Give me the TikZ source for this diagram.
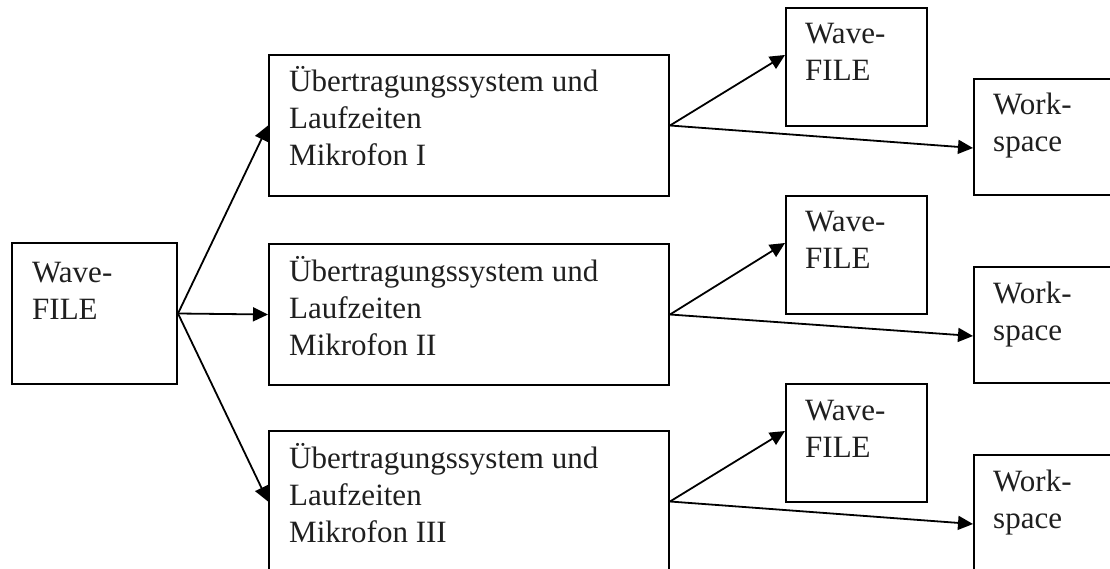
\documentclass[tikz,border=0pt]{standalone}
\usepackage{fontspec}
\setmainfont{Liberation Serif}
\usetikzlibrary{arrows.meta,calc}
\begin{document}
\begin{tikzpicture}[x=1pt,y=-1pt,
  box/.style={draw, line width=2pt, rectangle, inner sep=0pt, anchor=north west},
  midbox/.style={box, minimum width=400pt, minimum height=141pt},
  filebox/.style={box, minimum width=141pt, minimum height=118pt},
  wsbox/.style={box, minimum width=170pt, minimum height=116pt},
  lbl/.style={anchor=base west, inner sep=0pt, align=left,
    font=\fontsize{31}{37}\selectfont, text=black!88},
  link/.style={line width=1.8pt, -{Triangle[length=15pt,width=14pt]}}]
\useasboundingbox (0,0) rectangle (1110,569);
\clip (0,0) rectangle (1110,569);

% source file (labels are anchored on the baseline of their last line)
\node[box, minimum width=165pt, minimum height=141pt] (src) at (11,242) {};
\node[lbl] (srcT) at ($(src.north west)+(21,77)$) {Wave-\\FILE};

% transmission stages
\node[midbox] (m1) at (268,54) {};
\node[midbox] (m2) at (268,243) {};
\node[midbox] (m3) at (268,430) {};
\node[lbl] (m1T) at ($(m1.north west)+(21,112)$) {Übertragungssystem und\\Laufzeiten\\Mikrofon I};
\node[lbl] (m2T) at ($(m2.north west)+(21,112)$) {Übertragungssystem und\\Laufzeiten\\Mikrofon II};
\node[lbl] (m3T) at ($(m3.north west)+(21,112)$) {Übertragungssystem und\\Laufzeiten\\Mikrofon III};

% output wave files
\node[filebox] (f1) at (785,7) {};
\node[filebox] (f2) at (785,195) {};
\node[filebox] (f3) at (785,383) {};
\node[lbl] (f1T) at ($(f1.north west)+(20,74)$) {Wave-\\FILE};
\node[lbl] (f2T) at ($(f2.north west)+(20,74)$) {Wave-\\FILE};
\node[lbl] (f3T) at ($(f3.north west)+(20,74)$) {Wave-\\FILE};

% workspace outputs
\node[wsbox] (w1) at (973,78) {};
\node[wsbox] (w2) at (973,266) {};
\node[wsbox] (w3) at (973,454) {};
\node[lbl] (w1T) at ($(w1.north west)+(20,74)$) {Work-\\space};
\node[lbl] (w2T) at ($(w2.north west)+(20,74)$) {Work-\\space};
\node[lbl] (w3T) at ($(w3.north west)+(20,74)$) {Work-\\space};

% connectors
\draw[link] (src.east) -- (m1.west);
\draw[link] (src.east) -- (m2.west);
\draw[link] (src.east) -- (m3.west);
\foreach \i in {1,2,3}{
  \draw[link] (m\i.east) -- ([yshift=-48pt]f\i.north west);
  \draw[link] (m\i.east) -- ([yshift=-70pt]w\i.north west);
}
\end{tikzpicture}
\end{document}
